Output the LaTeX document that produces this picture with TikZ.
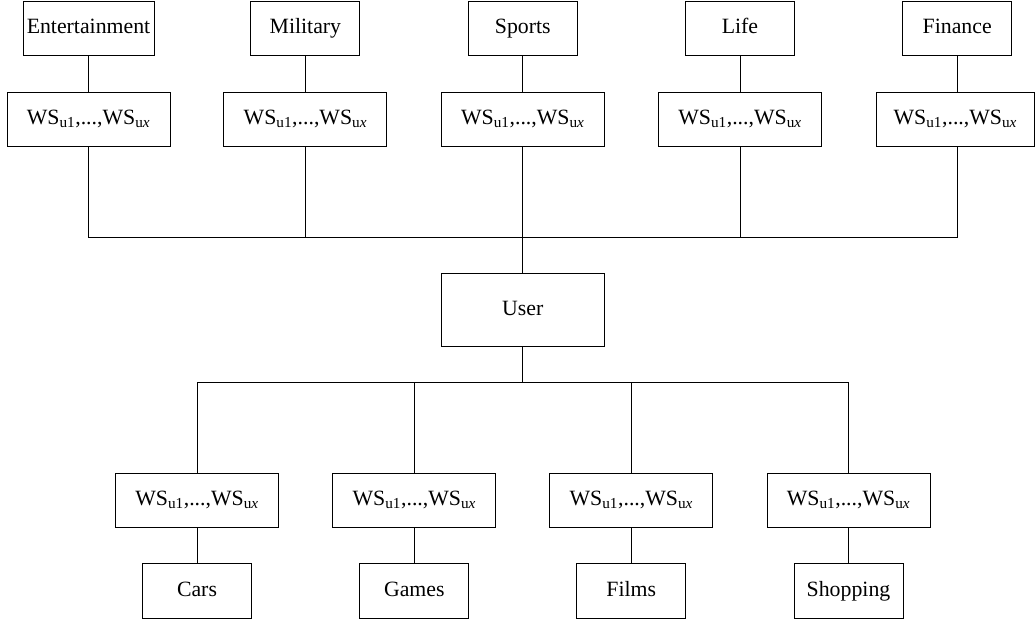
\documentclass[tikz,border=0pt]{standalone}
\usepackage{fontspec}
\setmainfont{Liberation Serif}
\begin{document}
\begin{tikzpicture}[x=1pt,y=-1pt,
  base/.style={draw=black,line width=1pt,inner sep=0pt,align=center,
    font=\fontsize{21.8}{26}\selectfont,text height=15pt,text depth=5pt},
  lab/.style={base,minimum width=109pt,minimum height=54.5pt},
  wsbox/.style={base,minimum width=163pt,minimum height=54.5pt},
  usr/.style={base,minimum width=163pt,minimum height=72.6pt},
  conn/.style={draw=black,line width=1pt}]
\useasboundingbox (0,0) rectangle (1035,625);
\newcommand{\wstext}{WS\textsubscript{u1},...,WS\textsubscript{u\textit{x}}}
% top categories
\node[lab,minimum width=131pt] (ent) at (88.5,28.7) {Entertainment};
\node[lab] (mil) at (305.4,28.7) {Military};
\node[lab] (spo) at (522.8,28.7) {Sports};
\node[lab] (lif) at (740,28.7) {Life};
\node[lab] (fin) at (957.2,28.7) {Finance};
% top WS boxes
\node[wsbox] (ws1) at (88.5,119.5) {\wstext};
\node[wsbox] (ws2) at (305.4,119.5) {\wstext};
\node[wsbox] (ws3) at (522.8,119.5) {\wstext};
\node[wsbox] (ws4) at (740,119.5) {\wstext};
\node[wsbox,minimum width=158pt] (ws5) at (955.3,119.5) {\wstext};
% user
\node[usr] (user) at (522.8,310) {User};
% bottom WS boxes
\node[wsbox] (bws1) at (197,500.5) {\wstext};
\node[wsbox] (bws2) at (414.3,500.5) {\wstext};
\node[wsbox] (bws3) at (631.3,500.5) {\wstext};
\node[wsbox] (bws4) at (848.5,500.5) {\wstext};
% bottom categories
\node[lab] (car) at (197,591) {Cars};
\node[lab] (gam) at (414.3,591) {Games};
\node[lab] (fil) at (631.3,591) {Films};
\node[lab] (sho) at (848.5,591) {Shopping};
% bus coordinates
\coordinate (tb) at (0,237.3);
\coordinate (bb) at (0,382.7);
% top connectors
\draw[conn] (ent.south) -- (ws1.north);
\draw[conn] (mil.south) -- (ws2.north);
\draw[conn] (spo.south) -- (ws3.north);
\draw[conn] (lif.south) -- (ws4.north);
\draw[conn] (fin.south) -- (fin.south |- ws5.north);
\draw[conn] (ws1.south) -- (ws1.south |- tb) -- (fin.south |- tb) -- (fin.south |- ws5.south);
\draw[conn] (ws2.south) -- (ws2.south |- tb);
\draw[conn] (ws4.south) -- (ws4.south |- tb);
\draw[conn] (ws3.south) -- (user.north);
% bottom connectors
\draw[conn] (user.south) -- (user.south |- bb);
\draw[conn] (bws1.north) -- (bws1.north |- bb) -- (bws4.north |- bb) -- (bws4.north);
\draw[conn] (bws2.north) -- (bws2.north |- bb);
\draw[conn] (bws3.north) -- (bws3.north |- bb);
\draw[conn] (bws1.south) -- (car.north);
\draw[conn] (bws2.south) -- (gam.north);
\draw[conn] (bws3.south) -- (fil.north);
\draw[conn] (bws4.south) -- (sho.north);
\end{tikzpicture}
\end{document}
